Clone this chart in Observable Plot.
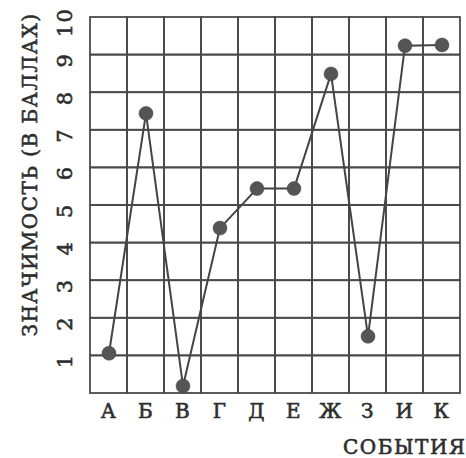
<!DOCTYPE html>
<html>
<head>
<meta charset="utf-8">
<script src="https://cdn.jsdelivr.net/npm/d3@7"></script>
<script src="https://cdn.jsdelivr.net/npm/@observablehq/plot@0.6"></script>
<style>
  html, body { margin: 0; padding: 0; background: #fff; }
  #chart { width: 466px; height: 458px; }
</style>
</head>
<body>
<div id="chart"></div>
<script>
const categories = ["А", "Б", "В", "Г", "Д", "Е", "Ж", "З", "И", "К"];
const values = [1.07, 7.45, 0.2, 4.4, 5.45, 5.45, 8.5, 1.52, 9.25, 9.27];
const yTicks = [1, 2, 3, 4, 5, 6, 7, 8, 9, 10];
const rowStarts = [0, 1, 2, 3, 4, 5, 6, 7, 8, 9];
const yTitle = "ЗНАЧИМОСТЬ (В БАЛЛАХ)";
const xTitle = "СОБЫТИЯ";

const data = categories.map((c, i) => ({cat: c, value: values[i]}));
const cells = categories.flatMap(c => rowStarts.map(r => ({cat: c, lo: r, hi: r + 1})));

const ink = "#2e2e2e";
const font = "'DejaVu Serif', serif";
const txt = {fill: ink, stroke: ink, strokeWidth: 0.6, fontWeight: 400};

const chart = Plot.plot({
  width: 466,
  height: 458,
  marginLeft: 87,
  marginTop: 17,
  marginRight: 4,
  marginBottom: 65,
  style: {fontFamily: font, background: "#fff", color: ink},
  x: {type: "band", domain: categories, padding: 0, axis: null},
  y: {domain: [0, 10], axis: null},
  marks: [
    Plot.barY(cells, {x: "cat", y1: "lo", y2: "hi", fill: "none", stroke: "#4a4a4a", strokeWidth: 1.8, inset: 0}),
    Plot.line(data, {x: "cat", y: "value", stroke: "#444", strokeWidth: 2}),
    Plot.dot(data, {x: "cat", y: "value", r: 7, fill: "#555", stroke: "#444", strokeWidth: 0.5}),
    Plot.text(yTicks, {...txt, y: d => d, frameAnchor: "left", dx: -22, dy: 5, rotate: -90, text: d => String(d), fontSize: 21, textAnchor: "middle", lineAnchor: "middle"}),
    Plot.text([yTitle], {...txt, frameAnchor: "top-left", dx: -57, dy: -5, rotate: -90, text: d => d, fontSize: 20, textAnchor: "end", lineAnchor: "middle"}),
    Plot.text(categories, {...txt, x: d => d, frameAnchor: "bottom", dy: 18, text: d => d, fontSize: 20, lineAnchor: "middle"}),
    Plot.text([xTitle], {...txt, frameAnchor: "bottom-right", dx: 4, dy: 54, text: d => d, fontSize: 20, textAnchor: "end", lineAnchor: "middle"})
  ]
});
d3.select(chart).selectAll("text").style("letter-spacing", "1.5px");
document.getElementById("chart").appendChild(chart);
</script>
</body>
</html>
